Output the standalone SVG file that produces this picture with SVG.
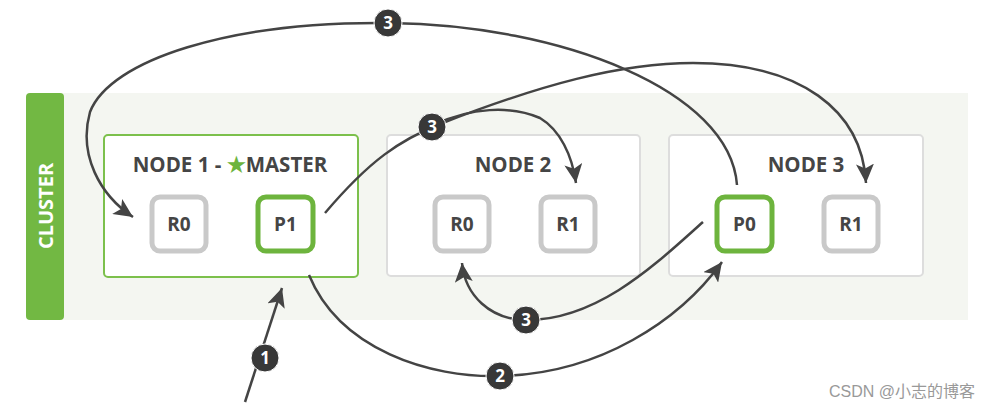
<svg xmlns="http://www.w3.org/2000/svg" width="992" height="412" viewBox="0 0 992 412">
<style>
.title{font-family:"Open Sans","Liberation Sans",sans-serif;font-weight:bold;font-size:20.5px;fill:#454545;text-anchor:middle}
.shard{font-family:"Open Sans","Liberation Sans",sans-serif;font-weight:bold;font-size:19px;fill:#454545;text-anchor:middle}
.node{fill:#ffffff;stroke:#dddddd;stroke-width:2}
.master{stroke:#7cc04c}
.rep{fill:#ffffff;stroke:#c9c9c9;stroke-width:5}
.pri{fill:#ffffff;stroke:#6db43d;stroke-width:5}
.conn{fill:none;stroke:#444444;stroke-width:2.5}
.badge circle{fill:#383838;stroke:#ffffff;stroke-width:1}
.badge text{font-family:"Open Sans","Liberation Sans",sans-serif;font-weight:bold;font-size:17px;fill:#ffffff;text-anchor:middle}
</style>
<defs>
<marker id="arr" markerUnits="userSpaceOnUse" markerWidth="20" markerHeight="18" viewBox="0 0 20 18" refX="19" refY="9" orient="auto">
<path d="M0,0 L19,9 L0,18 L4.5,9 z" fill="#444444"/>
</marker>
</defs>
<rect width="992" height="412" fill="#ffffff"/>
<g id="cluster">
<rect x="50" y="93" width="918" height="227" fill="#f4f6f1"/>
<rect x="26" y="93" width="38" height="227" rx="4" fill="#72b843"/>
<text transform="translate(45,206) rotate(-90)" font-family="'Open Sans','Liberation Sans',sans-serif" font-weight="bold" font-size="20" fill="#ffffff" text-anchor="middle" dominant-baseline="central">CLUSTER</text>
</g>
<g id="node1">
<rect class="node master" x="104" y="135" width="254" height="142" rx="4"/>
<text class="title" x="230" y="172">NODE 1 - <tspan fill="#6db43d">★</tspan>MASTER</text>
<rect class="rep" x="152" y="197" width="54" height="54" rx="8"/>
<text class="shard" x="179" y="231">R0</text>
<rect class="pri" x="258" y="197" width="55" height="54" rx="8"/>
<text class="shard" x="285.5" y="231">P1</text>
</g>
<g id="node2">
<rect class="node" x="387" y="135" width="253" height="141" rx="4"/>
<text class="title" x="513" y="172">NODE 2</text>
<rect class="rep" x="435" y="197" width="54" height="54" rx="8"/>
<text class="shard" x="462" y="231">R0</text>
<rect class="rep" x="541" y="197" width="54" height="54" rx="8"/>
<text class="shard" x="568" y="231">R1</text>
</g>
<g id="node3">
<rect class="node" x="669" y="135" width="254" height="141" rx="4"/>
<text class="title" x="806" y="172">NODE 3</text>
<rect class="pri" x="717" y="197" width="55" height="54" rx="8"/>
<text class="shard" x="744.5" y="231">P0</text>
<rect class="rep" x="824" y="197" width="54" height="54" rx="8"/>
<text class="shard" x="851" y="231">R1</text>
</g>
<g id="connectors">
<path class="conn" d="M245,402 L282,288" marker-end="url(#arr)"/>
<path class="conn" d="M309,275 C340,350 430,378 500,376 C600,374 680,320 722,262" marker-end="url(#arr)"/>
<path class="conn" d="M737,185 C730,90 560,25 390,23 C230,21 110,60 90,112 C78,155 100,195 133,217" marker-end="url(#arr)"/>
<path class="conn" d="M325,213 C370,160 400,140 440,124 C540,85 620,63 693,63 C800,63 862,110 866,183" marker-end="url(#arr)"/>
<path class="conn" d="M436,124 C470,108 510,105 540,118 C560,130 572,155 576,183" marker-end="url(#arr)"/>
<path class="conn" d="M703,222 C660,260 600,320 527,320 C490,320 465,295 462,263" marker-end="url(#arr)"/>
</g>
<g id="badges">
<g class="badge"><circle cx="265" cy="358" r="14"/><text x="265" y="364">1</text></g>
<g class="badge"><circle cx="500" cy="376" r="14"/><text x="500" y="382">2</text></g>
<g class="badge"><circle cx="388" cy="23" r="14"/><text x="388" y="29">3</text></g>
<g class="badge"><circle cx="432" cy="127" r="14"/><text x="432" y="133">3</text></g>
<g class="badge"><circle cx="526" cy="320" r="14"/><text x="526" y="326">3</text></g>
</g>
<text x="975" y="397" font-family="'Liberation Sans','Noto Sans CJK SC',sans-serif" font-size="16" fill="#999999" text-anchor="end">CSDN @小志的博客</text>
</svg>
